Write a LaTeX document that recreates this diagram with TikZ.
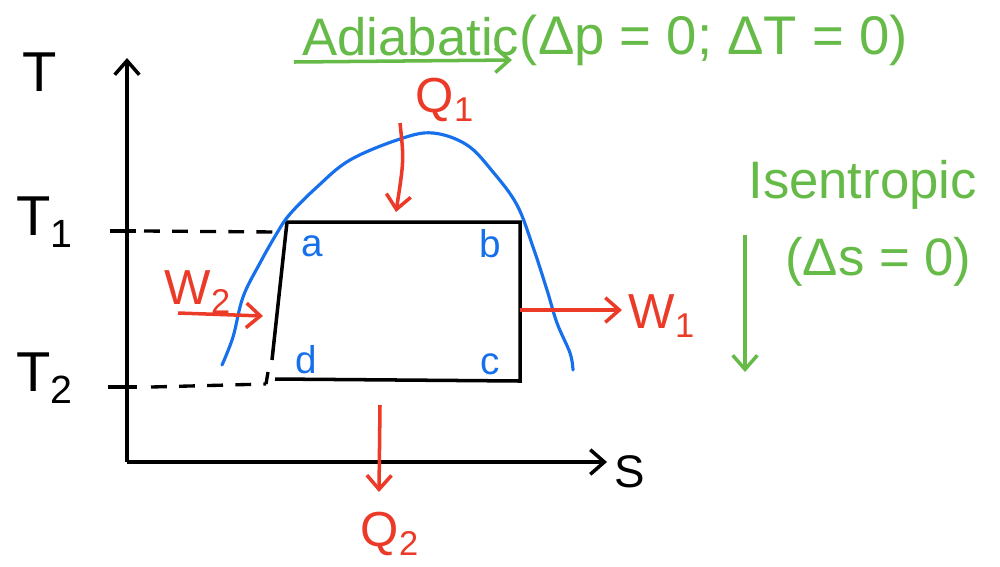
\documentclass[tikz,border=0pt]{standalone}
\usepackage{fontspec}
\setmainfont{Liberation Sans}
\usetikzlibrary{arrows.meta}
\definecolor{hgreen}{RGB}{102,187,72}
\definecolor{hred}{RGB}{236,58,40}
\definecolor{hblue}{RGB}{22,112,235}
\tikzset{
  axis/.style={line width=2pt, black},
  barb/.style={-{Straight Barb[length=8pt,width=14pt,line width=2pt]}},
  redarrow/.style={hred, line width=2pt, barb},
  greentext/.style={hgreen, inner sep=0pt, font=\fontsize{30}{34}\selectfont},
  redtext/.style={hred, inner sep=0pt, font=\fontsize{28}{32}\selectfont},
  bluetext/.style={hblue, inner sep=0pt, font=\fontsize{22}{26}\selectfont},
  blacktext/.style={black, inner sep=0pt, font=\fontsize{32}{36}\selectfont},
  dashline/.style={black, line width=1.9pt, dash pattern=on 9pt off 7pt},
}
\begin{document}
\begin{tikzpicture}[x=0.02cm,y=-0.02cm]
\useasboundingbox (0,0) rectangle (1000,566);

% axes
\coordinate (origin) at (127,462);
\coordinate (ytop) at (127,58);
\coordinate (xend) at (607,462);
\draw[axis, barb] (origin) -- (ytop);
\draw[axis, barb] (origin) -- (xend);
\node[blacktext] (Tlab) at (40,72) {T};
\node[blacktext, font=\fontsize{26}{30}\selectfont] (Slab) at (630,472) {S};
\node[blacktext] (T1lab) at (45,222) {T\textsubscript{1}};
\node[blacktext] (T2lab) at (45,378) {T\textsubscript{2}};

% ticks
\coordinate (t1l) at (110,231); \coordinate (t1r) at (136,231);
\coordinate (t2l) at (108,387); \coordinate (t2r) at (137,387);
\draw[axis] (t1l) -- (t1r);
\draw[axis] (t2l) -- (t2r);

% cycle corners
\coordinate (A) at (287,222);
\coordinate (B) at (520,222);
\coordinate (C) at (520,381);
\coordinate (D) at (275,379);
\coordinate (Dl) at (272,360);

\draw[dashline] (t1r) ++(8,0) coordinate (d1s) -- (278,232) coordinate (d1e);
\draw[dashline] (t2r) ++(14,0) coordinate (d2s) -- (266,384) coordinate (d2e);
\draw[black, line width=1.9pt] (d2e) -- ++(2,-12);

\draw[black, line width=2pt] (Dl) -- (A) -- (B) -- (C) -- (D);

% dome
\draw[hblue, line width=1.8pt, line cap=round] plot[smooth, tension=0.6] coordinates {
 (222,365) (233,337) (243,297) (260,263) (277,233) (290,214) (317,187) (350,160)
 (400,139) (433,133) (467,145) (493,172) (517,205) (533,247) (547,290) (557,323) (570,353) (573,370)};

\node[bluetext] (alab) at (312,246) {a};
\node[bluetext] (blab) at (490,244) {b};
\node[bluetext] (clab) at (490,364) {c};
\node[bluetext] (dlab) at (306,360) {d};

% heat and work
\node[redtext] (Q1) at (445,100) {Q\textsubscript{1}};
\coordinate (q1s) at (400,123);
\coordinate (q1e) at (396,212);
\draw[redarrow] (q1s) .. controls (404,160) .. (q1e);

\node[redtext] (Q2) at (390,534) {Q\textsubscript{2}};
\coordinate (q2s) at (380,405);
\coordinate (q2e) at (379,492);
\draw[redarrow] (q2s) -- (q2e);

\node[redtext] (W1) at (662,316) {W\textsubscript{1}};
\coordinate (w1s) at (520,310);
\coordinate (w1e) at (622,310);
\draw[redarrow] (w1s) -- (w1e);

\node[redtext] (W2) at (198,292) {W\textsubscript{2}};
\coordinate (w2s) at (178,313);
\coordinate (w2e) at (263,316);
\draw[redarrow] (w2s) -- (w2e);

% green notes
\node[greentext, anchor=south west] (adiab) at (302,56) {Adiabatic};
\node[greentext, anchor=west, font=\fontsize{31}{34}\selectfont] (adcond) at (adiab.east |- 0,40) {(Δp = 0; ΔT = 0)};
\draw[hgreen, line width=2pt, barb] (adiab.south west) ++(-8,6) coordinate (ua) -- ++(218,-2) coordinate (ub);

\node[greentext, anchor=west] (isen) at (748,185) {Isentropic};
\node[greentext, anchor=west] (iscond) at (785,262) {(Δs = 0)};
\coordinate (vs) at (745,235);
\coordinate (ve) at (745,372);
\draw[hgreen, line width=2pt, barb] (vs) -- (ve);
\end{tikzpicture}
\end{document}
